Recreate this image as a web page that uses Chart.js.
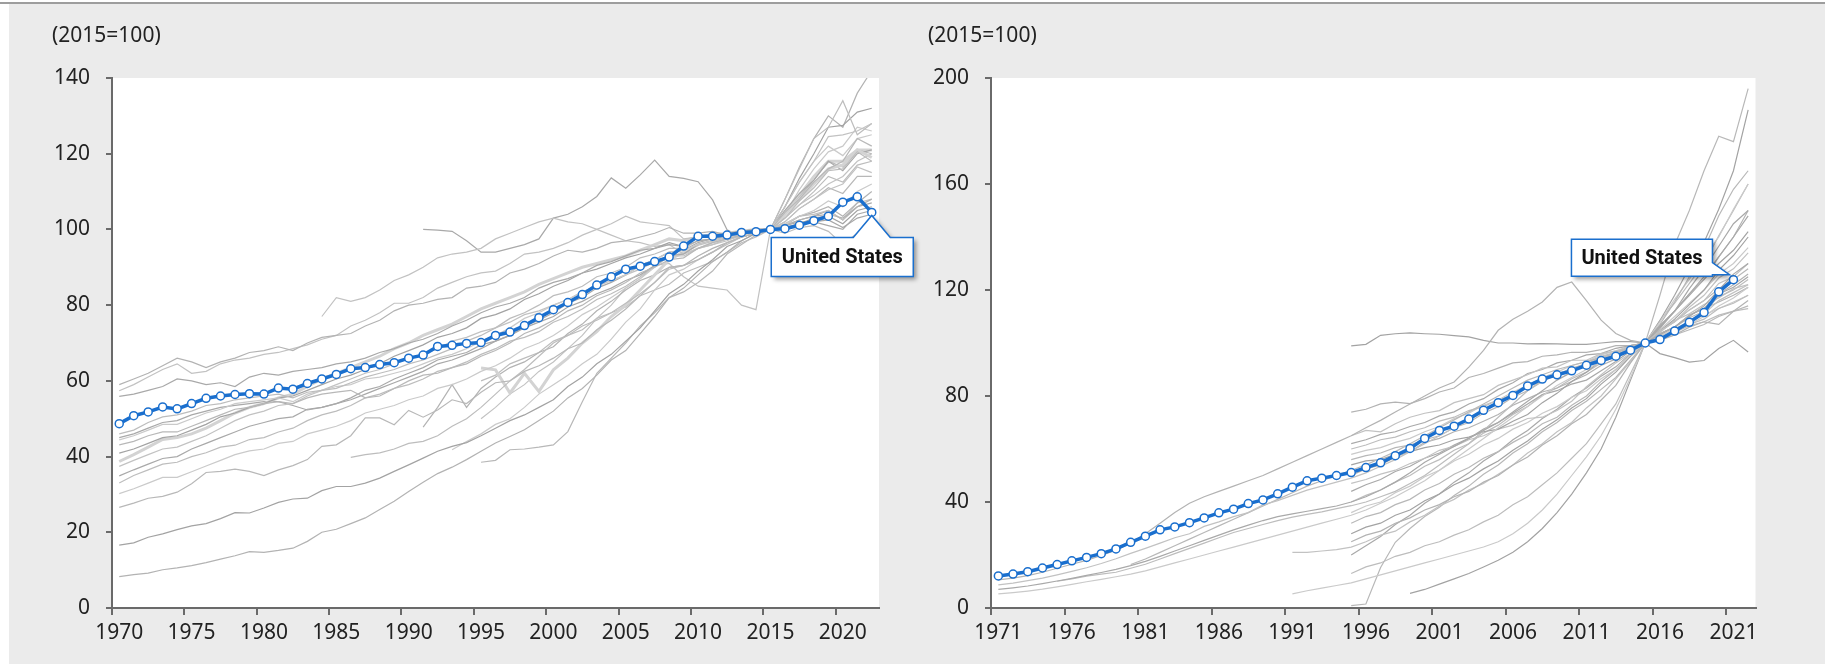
<!DOCTYPE html>
<html><head><meta charset="utf-8">
<script src="https://cdn.jsdelivr.net/npm/chart.js@4.4.1/dist/chart.umd.min.js"></script>
<style>
html,body{margin:0;padding:0;background:#fff;width:1825px;height:664px;overflow:hidden;}
#bg{position:absolute;left:9px;top:4px;width:1816px;height:660px;background:#ebebeb;}
#topline{position:absolute;left:0;top:2px;width:1825px;height:2px;background:#9d9d9d;}
#c1{position:absolute;left:0;top:0;width:925px;height:664px;}
#c2{position:absolute;left:925px;top:0;width:900px;height:664px;}
</style></head>
<body>
<div id="bg"></div><div id="topline"></div>
<canvas id="c1" width="925" height="664"></canvas>
<canvas id="c2" width="900" height="664"></canvas>
<script>
const N = null;
// ---------- Left panel: 1970-2022 ----------
const yearsLeft = [1970,1971,1972,1973,1974,1975,1976,1977,1978,1979,1980,1981,1982,1983,1984,1985,1986,1987,1988,1989,1990,1991,1992,1993,1994,1995,1996,1997,1998,1999,2000,2001,2002,2003,2004,2005,2006,2007,2008,2009,2010,2011,2012,2013,2014,2015,2016,2017,2018,2019,2020,2021,2022];
const usLeft = [48.7,50.8,51.8,53.1,52.6, 54.0,55.4,56.0,56.4,56.6, 56.5,58.1,57.8,59.3,60.5, 61.7,63.2,63.5,64.3,64.8, 66.0,66.8,69.1,69.4,69.9, 70.1,72.0,72.9,74.6,76.7, 78.8,80.7,82.8,85.3,87.5, 89.5,90.3,91.5,92.7,95.6, 98.2,98.2,98.5,99.2,99.4, 100,100.2,101.1,102.3,103.5, 107.2,108.6,104.5];
const gL01 = [59,60.5,62,64,66, 65,63.5,65,66,67.5, 68,69,68,70,71.5, 72,72.5,74.5,76,78.5, 80,80.5,81.5,82,84.5, 85,86,88.5,89.5,91, 93,94.5,94,95,96.5, 97,98,99,100.5,99, 99,99.5,98.5,99.5,100, 100,101,102.5,103.5,104, 103,106,108];
const gL02 = [57.4,59,61,63,64.5, 62,62.5,64.5,65.5,66, 67,67.5,68.5,69.5,71, 72,74.5,76,78,80.5, 80.5,82,84.5,86,87.5, 88.5,89,91,93.5,94, 95,96.5,98.5,100,101.5, 103.5,102,101.5,101,97.5, 98,99,98,99,99.5, 100,102,105.5,108,110.5, 112,116.5,115];
const gL03 = [55.9,56.5,57.5,58.5,60.5, 60,59,59.5,58.5,61, 62,61.5,62.5,63,63.5, 64.5,65,66,67.5,68.5, 70,71,72.5,74.5,76, 78,79.5,80.5,82,84.5, 86,87,88.5,90.5,91.5, 93,94.5,95,96,95.5, 97,97.5,98.5,99,99.5, 100,100.5,101.5,102,102.5, 100.5,103,104];
const gL04 = [46,47,49,50.5,51, 52,53.5,54,55,55.5, 56,56.5,55.5,57,57.5, 58,59.5,61,62,63, 64.5,65.5,67,68.5,70.5, 72,74,76.5,78,80, 82.5,83.5,85,87.5,88.5, 90,92.5,93.5,95,95, 97,97.5,98.5,99,99.5, 100,103,107.5,111,115.5, 116,120.5,118];
const gL05 = [44.4,45.5,47,48.5,48.5, 50,51.5,52.5,54,54.5, 55,55.5,54.5,56.5,57.5, 58.5,59,60.5,61,62, 63,64.5,66,67,68.5, 70.5,72,74,76.5,78, 80,81.5,83.5,85,86.5, 88,90.5,92,94,94.5, 96,97,98,99,99.5, 100,101.5,103.5,105,107.5, 106,110,112];
const gL06 = [43.1,44,45.5,46.5,46.5, 48,49.5,51,52.5,53, 54,54.5,54,55.5,56.5, 57,57.5,55.5,56,58, 60,61.5,62,63.5,64.5, 66.5,68,70,72.5,74, 76,78.5,80,82.5,84, 86,88.5,90,92,92.5, 95,96.5,97.5,98.5,99.5, 100,104.5,108,112.5,116, 118,124,122];
const gL07 = [40.9,42,43.5,45,45.5, 47,48.5,50.5,51.5,53, 54,55.5,56,57.5,59, 60.5,61.5,63,64.5,66.5, 68,69.5,71.5,72.5,74, 76.5,77.5,79,81.5,83, 85,86.5,88.5,89.5,91, 92.5,93.5,95,96.5,95.5, 98,98.5,99,99.5,100, 100,100.5,101.5,103,103.5, 101.5,105,106];
const gL08 = [38.7,40.5,42.5,44.5,45, 46,47.5,49.5,51.5,53, 54,55.5,56.5,58.5,60.5, 62,63.5,65,66.5,68.5, 70,72,73.5,75,77, 79,80.5,82,83.5,85.5, 87,88.5,90,91,92, 93,94.5,96,97.5,97, 98,98.5,99,99.5,100, 100,104,108,112,116, 117,121,119];
const gL09 = [37.4,39,40.5,42,42.5, 44,45.5,47.5,49.5,51, 52,53.5,54,56,57.5, 59,60.5,62,63,64.5, 66,67,68.5,70.5,71.5, 73,74,75.5,77.5,78.5, 80,81.5,83.5,85,86.5, 88,89.5,91.5,93,93, 95,96,97,98.5,99.5, 100,106,112.5,118,124.5, 125,126,128];
const gL10 = [34.9,36.5,38,39.5,40, 42,43.5,45,46.5,48, 49,50,50.5,52.5,53, 54,55.5,57.5,58.5,60.5, 62,63.5,65.5,66.5,67.5, 69.5,70.5,72,74,75.5, 77,79.5,81,83,84.5, 86.5,88,90.5,93,93.5, 96,97,98,99,99.5, 100,105,109.5,113,118, 115.5,120,121];
const gL11 = [33,35,36.5,38,38.5, 40,41,42.5,43,44.5, 45,46.5,47.5,49.5,51, 52,53.5,55.5,56.5,58, 59,60.5,62.5,63.5,65, 67,68.5,70.5,71.5,73, 75.5,77,79,81.5,83, 85,87.5,90.5,93,93.5, 96,97,98,99,99.5, 100,108,116,124,127, 134,125,128];
const gL12 = [30.2,31.5,33,34.5,34.5, 36,37.5,39,40.5,41.5, 42,43.5,44,46,47, 48,49.5,51.5,52.5,53.5, 55,56,58,59,60.5, 62.5,64,66,68.5,70, 72,74.5,77.5,79.5,82, 84.5,87,90,93,93.5, 95,96.5,97.5,98.5,99.5, 100,104,110.5,116,120.5, 122,127,126];
const gL13 = [26.6,27.7,29,29.5,30.6, 32.8,35.8,36.1,36.7,36.1, 35,36.5,37.6,39.2,42.7, 43.1,45.5,50.2,50.2,48.4, 52.2,50.4,52.3,55,54, 57,59.5,60,62.5,64, 66,68.5,70,73.5,76, 79,82.5,86,90,90.5, 92,94,96.5,98,99, 100,102,105.5,108,111, 109.5,114,114];
const gL14 = [16.6,17.2,18.7,19.6,20.7, 21.7,22.3,23.6,25.2,25.1, 26.4,27.9,28.8,29,31, 32.1,32.1,33,34.3,36.1, 37.8,39.6,41.4,42.7,43.7, 45.5,47.5,49.5,51,53, 55,58.5,61,64.5,67, 70.5,74,78.5,83,85.5, 89,92,95.5,97,99, 100,106,113.5,120,127, 127.5,131,132];
const gL15 = [8.3,8.8,9.2,10.1,10.6, 11.2,12,12.9,13.8,14.9, 14.7,15.2,15.8,17.6,20, 20.8,22.3,23.8,26,28.2, 30.8,33.2,35.5,37.2,39.2, 41.4,43.6,45.3,47.1,49.5, 52,55.5,58,61.5,65.5, 68,72.5,77,82,84.5, 88,91.5,94,97,99, 100,108,116.5,124,130, 127,136,142];
const gL16 = [N,N,N,N,N, N,N,N,N,N, N,N,N,N,77, 82,81,82,84,86.5, 88,90,92.5,93.5,94, 95,97.5,99,100.5,102, 103,102,101.5,100,98.5, 97,96.5,95.5,96,93.5, 95,96,97.5,98,99, 100,103,106.5,109,112, 114,118,120];
const gL17 = [N,N,N,N,N, N,N,N,N,N, N,N,N,N,N, N,N,N,N,N, N,100,99.8,99.5,97, 94,94,95,96,97.5, 103,104,106,108.7,113.6, 110.9,114.4,118.3,114,113.5, 112.6,107.8,99.9,98,99, 100,101,102,102,101, 100,104,105];
const gL18 = [N,N,N,N,N, N,N,N,N,N, N,N,N,N,N, N,39.8,40.5,41,42, 43.5,44,45.5,48,50, 53,56.5,60,63,66.5, 70,72,74.5,76,78, 80.5,83,86,89.5,90.5, 92,94,96,98,99, 100,103,106.5,110,114, 112.5,117,118];
const gL19 = [N,N,N,N,N, N,N,N,N,N, N,N,N,N,N, N,N,N,N,N, N,N,N,41.8,44, 46,48.5,50,53,56.5, 59,61.5,64.5,67,71, 75.5,79,84,88,89.5, 92,94,96.5,98,99, 100,106,112.5,118,122, 119.5,124,125];
const gL20 = [N,N,N,N,N, N,N,N,N,N, N,N,N,N,N, N,N,N,N,N, N,N,N,N,N, 38.5,39,41.8,42,42.5, 43.1,46.6,54.5,62,66, 70,74.5,78,82,83.5, 86,89,93.5,96,98.5, 100,104,108.5,113,118, 116.5,121,120];
const gL21 = [N,N,N,N,N, N,N,N,N,N, N,N,N,N,N, N,N,N,N,N, N,N,N,N,N, 63.4,62.9,56.8,62,57.2, 62.9,66,70,73,77, 80,84,88,92,94, 96,97,98,99,99.5, 100,104,109,114,118, 118,121,121];
const gL22 = [N,N,N,N,N, N,N,N,N,N, N,N,N,N,N, N,N,N,N,N, N,47.8,53,59,53, 58,61,63.5,65,67.5, 69,72.5,75,78.5,81, 84,86.5,88,90,90.5, 93,95,96.5,98,99, 100,101.5,103.5,104.5,106, 103.5,107,110];
const gL23 = [N,N,N,N,N, N,N,N,N,N, N,N,N,N,N, N,N,N,N,N, N,N,N,N,N, 50,53,56.5,59,62.5, 65,68.5,72,76.5,80, 84.5,87,90.5,91,87.5, 85,84.5,84,80,78.8, 100,101,103.5,104,105, 102.5,107,108];
const gL24 = [45,46,47.5,49,49.5, 51,52,53,53.5,54, 54.5,54.5,53.5,52.3,53, 54,55,56.5,58,59.5, 61,62.5,64.5,65.5,67, 68.5,70.5,72,74.5,76, 78,80.5,82,84.5,86, 88,90.5,92,94,94.5, 96.5,97.5,98.5,99,99.5, 100,101,102.5,103.5,105, 102.5,106,107];
const gL25 = [N,N,N,N,N, N,N,N,N,N, N,N,N,N,N, N,N,N,N,N, N,N,N,N,N, 60,61.5,64.5,66,67.5, 70.5,72,73.5,76.5,78, 79.5,82.5,84,85.5,88.5, 90,91.5,94,96.5,98, 100,99,100.5,101,99.5, 96,99,98];
const grayLeft = [gL01,gL02,gL03,gL04,gL05,gL06,gL07,gL08,gL09,gL10,gL11,gL12,gL13,gL14,gL15,gL16,gL17,gL18,gL19,gL20,gL21,gL22,gL23,gL24,gL25];
const thickLeft = [gL08, gL21];
const yTicksLeft = [0,20,40,60,80,100,120,140];

// ---------- Right panel: 1971-2022 ----------
const yearsRight = [1971,1972,1973,1974,1975,1976,1977,1978,1979,1980,1981,1982,1983,1984,1985,1986,1987,1988,1989,1990,1991,1992,1993,1994,1995,1996,1997,1998,1999,2000,2001,2002,2003,2004,2005,2006,2007,2008,2009,2010,2011,2012,2013,2014,2015,2016,2017,2018,2019,2020,2021,2022];
const usRight = [12.1,12.8,13.7,15.1,16.4, 17.8,19.1,20.5,22.3,24.8, 27.1,29.5,30.6,32.2,34.0, 35.9,37.3,39.4,40.8,43.1, 45.6,48.0,49.0,50.0,51.1, 53.0,54.8,57.5,60.2,64.0, 67.0,68.6,71.3,74.6,77.5, 80.2,83.8,86.4,88.0,89.5, 91.6,93.4,95.0,97.3,100, 101.3,104.5,107.8,111.5,119.3, 123.9,N];
const gR01 = [10.6,11.3,12.2,13.5,15, 16.5,18,19.8,21.8,24.5, 28,32,36,39.5,42, 44,46,48,50,52.5, 55,57.5,60,62.5,65, 68,70.8,74,77,80, 83,85.3,90.9,97.2,104.8, 109,112,115.5,121,123, 116,108.6,103.6,101,100, 101,103,106,108,107, 112,116];
const gR02 = [8.7,9.4,10.3,11.3,12.5, 13.8,15.2,16.8,18.6,20.6, 22.5,24.5,26.5,28,30.8, 32.5,34.5,36,38.9,40.5, 42.5,44.5,46,47.5,49, 51,53.5,56,59,62, 65,68,71,74,77.5, 81,84,86.5,88,90, 92,94,96,98,100, 102,105,108,111,116, 119,122];
const gR03 = [7,7.6,8.3,9.2,10.2, 11.2,12.3,13.4,14.6,16, 17.6,19.5,21.5,23.5,25.5, 27.5,29.5,31.3,33,34.5, 35.5,36.5,37.5,38.5,40, 42,44.5,47.5,51,55, 58,61,64,67,70, 74,78,82,86,89, 92,94,96,98,100, 103,106,110,114,120, 126,130];
const gR04 = [N,N,N,N,10.1, 11,12,12.8,13.5,15, 16.5,18.5,20.5,22.5,24.5, 26.5,28.5,30,31.5,33, 34.3,35.3,36.3,37.5,38.6, 40,42,44,47,50, 54,58,62,67,72, 77,82,86,88,90, 92,94.5,96.5,98.5,100, 102,104,107,109,113, 115,118];
const gR05 = [5.3,5.8,6.4,7.1,8, 8.9,9.9,10.8,11.8,12.8, 14,15.5,17,18.5,20, 21.5,23,24.5,26,27.5, 29,30.5,32,33.5,35, 37,39.5,42,45,48, 52,56,60,64,68, 72,76,80,84,87, 90,93,95.5,98,100, 102,104.5,107,110,114, 117,121];
const gR06 = [N,N,N,N,N, N,N,N,N,16.4, 18.5,21,23.5,26,28.5, 31,33.5,36,38.5,41, 43.5,46,48,50,52, 54,56.5,59,62,65, 68,71,74,77,80, 83,86,88,90,91.5, 93,94.5,96,98,100, 101.5,103,105,107,110, 112,114];
const gR07 = [N,N,N,N,N, N,N,N,N,N, N,N,N,N,N, N,N,N,N,N, N,N,N,N,98.9, 99.5,102.9,103.5,103.8,103.5, 103.3,102.8,102.3,101,100, 100,99.7,99.8,99.7,99.5, 99.5,100,100.5,100.5,100, 96,94.5,92.8,93.4,97.9, 101,96.6];
const gR08 = [N,N,N,N,N, N,N,N,N,N, N,N,N,N,N, N,N,N,N,N, N,N,N,N,73.9, 75,77,77.7,77.1,79, 81.5,83,87,88.5,90.5, 92.5,93,95,95.5,96.5, 96.5,97.5,99,99,100, 103.5,106,110.5,113,118.5, 122,126];
const gR09 = [N,N,N,N,N, N,N,N,N,N, N,N,N,N,N, N,N,N,N,N, N,N,N,N,65, 67,66.5,69.5,72,73.5, 74.5,77.5,79,80.5,84, 86,88,90.5,91,93.5, 93.5,96,97,98.5,100, 104.5,108,113.5,118,124.5, 128,134];
const gR10 = [N,N,N,N,N, N,N,N,N,N, N,N,N,N,N, N,N,N,N,N, N,N,N,N,62, 63.5,65.5,66.5,68.5,70, 72.5,74,77,79,82.5, 85,88.5,90,92.5,93.5, 95.5,96,98,99,100, 106.5,112,120.5,128,136.5, 145,150];
const gR11 = [N,N,N,N,N, N,N,N,N,N, N,N,N,N,N, N,N,N,N,N, N,N,N,N,60, 61.5,63.5,64.5,66.5,68, 70.5,72,74.5,76,78.5, 80.5,83.5,85.5,88.5,90, 92.5,95,96.5,98.5,100, 103.5,106,109.5,112,117.5, 120,124];
const gR12 = [N,N,N,N,N, N,N,N,N,N, N,N,N,N,N, N,N,N,N,N, N,N,N,N,58, 59.5,60.5,62.5,64,66.5, 68.5,71.5,73.5,76.5,78.5, 81.5,84,87,89,91.5, 93,95.5,97,99,100, 102.5,105.5,108,110.5,113, 115.5,118];
const gR13 = [N,N,N,N,N, N,N,N,N,N, N,N,N,N,N, N,N,N,N,N, N,N,N,N,56, 57.5,58.5,60.5,61.5,63.5, 65,68,70,73.5,76, 79.5,82,85.5,88,90.5, 92,94.5,96,98.5,100, 107,115.5,125,135.5,148, 158,165];
const gR14 = [N,N,N,N,N, N,N,N,N,N, N,N,N,N,N, N,N,N,N,N, N,N,N,N,54, 55.5,56,58,59,60.5, 61.5,63.5,64.5,66.5,67.5, 70.5,73,77.5,81,85.5, 89,93.5,96,99,100, 104.5,109,114.5,120,127.5, 133,140];
const gR15 = [N,N,N,N,N, N,N,N,N,N, N,N,N,N,N, N,N,N,N,N, N,N,N,N,50, 52.5,54,57,59,62.5, 64,66.5,68,70.5,73, 76.5,79,81.5,83,85.5, 88,91.5,94,97.5,100, 103.5,106,110.5,113,115.5, 118,121];
const gR16 = [N,N,N,N,N, N,N,N,N,N, N,N,N,N,N, N,N,N,N,N, N,N,N,N,47, 48.5,50.5,52,54.5,56.5, 59.5,61,63.5,65,67.5, 69,71.5,72,74.5,78, 83.5,88,92.5,96,100, 104.5,108,112.5,116,122.5, 125,130];
const gR17 = [N,N,N,N,N, N,N,N,N,N, N,N,N,N,N, N,N,N,N,N, N,N,N,N,44, 46.5,48.5,51.5,53.5,56.5, 58.5,61.5,64,67.5,70, 73.5,77,80.5,82,84.5, 86,89.5,93,97,100, 105.5,112,118.5,125,132.5, 140,148];
const gR18 = [N,N,N,N,N, N,N,N,N,N, N,N,N,N,N, N,N,N,N,N, N,N,N,N,40, 42.5,44.5,47.5,50,53.5, 56,59.5,62,66,69, 73,76,80.5,83,86.5, 89,92.5,95,98,100, 102.5,104,106.5,108,110.5, 112,113];
const gR19 = [N,N,N,N,N, N,N,N,N,N, N,N,N,N,N, N,N,N,N,N, N,N,N,N,36, 38.5,40,43.5,46,49.5, 52,55.5,58,61.5,64, 67.5,70,73.5,76,79.5, 82,86.5,90,95.5,100, 108,116.5,124,132.5,140, 150.5,160];
const gR20 = [N,N,N,N,N, N,N,N,N,N, N,N,N,N,N, N,N,N,N,N, N,N,N,N,32, 34.5,36,39,41,44.5, 47,50.5,53,56.5,59, 62.5,65.5,69.5,72,76.5, 80,85.5,90,95.5,100, 118,137,150,165,178, 176,196];
const gR21 = [N,N,N,N,N, N,N,N,N,N, N,N,N,N,N, N,N,N,N,N, N,N,N,N,28, 30.5,32,35,37,40.5, 43,46.5,49,52.5,55.5, 59.5,63,67.5,71,75.5, 79,84.5,89,95,100, 108.5,118,128.5,138,150.5, 165,188];
const gR22 = [N,N,N,N,N, N,N,N,N,N, N,N,N,N,N, N,N,N,N,N, N,N,N,N,25, 27.5,29,32,34,37, 39,42,44,47.5,50, 54,57,61.5,65,69.5, 73,78.5,84,92.5,100, 106.5,112,118.5,124,132.5, 140,150];
const gR23 = [N,N,N,N,N, N,N,N,N,N, N,N,N,N,N, N,N,N,N,N, 21,21,21.5,22,23, 25,27.5,29,32.5,35, 38.5,41,44.5,47,50.5, 54,58.5,62,66.5,70, 75.5,80,86.5,93,100, 104,108.5,111,114.5,117, 120.5,122];
const gR24 = [N,N,N,N,N, N,N,N,N,N, N,N,N,N,N, N,N,N,N,N, N,N,N,N,20, 23.5,27,31.5,35,39.5, 43,47.5,51,55.5,59, 63.5,67,71.5,75,79.5, 83,87.5,91,96,100, 103.5,106,110.5,113,118.5, 121,125];
const gR25 = [N,N,N,N,N, N,N,N,N,N, N,N,N,N,N, N,N,N,N,N, N,N,N,N,13, 15.5,17,19.5,21,23.5, 25,27.5,29.5,32.5,35, 39,42,46.5,51,56.5, 62,69.5,77,88.5,100, 108.5,115,122.5,130,140.5, 150,160];
const gR26 = [N,N,N,N,N, N,N,N,N,N, N,N,N,N,N, N,N,N,N,N, 5.3,6.5,7.5,8.5,9.5, 11,12.5,14,15.5,17, 18.5,20,21.5,23,25, 28,32,37,43,50, 57,65,75,87,100, 105,110,115,120,126, 130,136];
const gR27 = [N,N,N,N,N, N,N,N,N,N, N,N,N,N,N, N,N,N,N,N, N,N,N,N,0.9, 1.5,15.3,24.8,30,34.5, 38,42.5,46,50.5,54, 58.5,62,66.5,70,74.5, 78,82.5,87,93.5,100, 104.5,108,112.5,116,120.5, 124,128];
const gR28 = [N,N,N,N,N, N,N,N,N,N, N,N,N,N,N, N,N,N,N,N, N,N,N,N,N, N,N,N,5.5,7, 9,11,13,15.5,18, 21,25,30,36,43, 51,60,72,86,100, 106,112,118,124,130, 135,142];
const grayRight = [gR01,gR02,gR03,gR04,gR05,gR06,gR07,gR08,gR09,gR10,gR11,gR12,gR13,gR14,gR15,gR16,gR17,gR18,gR19,gR20,gR21,gR22,gR23,gR24,gR25,gR26,gR27,gR28];
const yTicksRight = [0,40,80,120,160,200];

const unitLabel = '(2015=100)';
const seriesName = 'United States';

const grayShades = ['#b3b3b3','#c2c2c2','#a9a9a9','#bdbdbd','#cacaca','#b8b8b8','#a3a3a3'];
const BLUE = '#1a6fce';
const AXIS = '#6a6a6a';
const TXT = '#222222';
const FONT = 'Noto Sans';

const decoPlugin = {
  id: 'deco',
  beforeDraw(chart, args, o) {
    const {ctx, chartArea: a} = chart;
    ctx.save();
    ctx.fillStyle = '#ffffff';
    ctx.fillRect(a.left, a.top, a.right - a.left, a.bottom - a.top);
    ctx.restore();
  },
  afterDatasetsDraw(chart, args, o) {
    const ctx = chart.ctx;
    const meta = chart.getDatasetMeta(0);
    const data = chart.data.datasets[0].data;
    let last = data.length - 1;
    while (last > 0 && data[last] == null) last--;
    const pt = meta.data[last];
    const px = pt.x, py = pt.y;
    ctx.save();
    let x0, y0, w, h;
    ctx.beginPath();
    if (o.side === 'below') {
      w = 142; h = 39; x0 = px - 100.5; y0 = py + 25;
      ctx.moveTo(x0, y0);
      ctx.lineTo(px - 18.5, y0);
      ctx.lineTo(px, py + 3);
      ctx.lineTo(px + 18.5, y0);
      ctx.lineTo(x0 + w, y0);
      ctx.lineTo(x0 + w, y0 + h);
      ctx.lineTo(x0, y0 + h);
      ctx.closePath();
    } else {
      w = 141; h = 37; x0 = px - 21 - w; y0 = py - 40.5;
      ctx.moveTo(x0, y0);
      ctx.lineTo(x0 + w, y0);
      ctx.lineTo(x0 + w, y0 + 23.5);
      ctx.lineTo(px - 4, py - 5);
      ctx.lineTo(x0 + w, y0 + 35.5);
      ctx.lineTo(x0 + w, y0 + h);
      ctx.lineTo(x0, y0 + h);
      ctx.closePath();
    }
    ctx.shadowColor = 'rgba(0,0,0,0.38)';
    ctx.shadowBlur = 4;
    ctx.shadowOffsetX = 3;
    ctx.shadowOffsetY = 3;
    ctx.fillStyle = '#ffffff';
    ctx.fill();
    ctx.shadowColor = 'rgba(0,0,0,0)';
    ctx.lineWidth = 1.5;
    ctx.strokeStyle = BLUE;
    ctx.stroke();
    ctx.fillStyle = '#111111';
    ctx.font = 'bold 20px Roboto';
    ctx.textAlign = 'center';
    ctx.textBaseline = 'middle';
    ctx.fillText(seriesName, x0 + w / 2, y0 + h / 2 + 1);
    ctx.restore();
  },
  afterDraw(chart, args, o) {
    const ctx = chart.ctx;
    ctx.save();
    ctx.fillStyle = TXT;
    ctx.font = '21px "' + FONT + '"';
    ctx.textAlign = 'left';
    ctx.textBaseline = 'alphabetic';
    ctx.fillText(unitLabel, o.titleX, 42);
    ctx.restore();
  }
};

function makeChart(id, labels, us, grays, thick, yMax, yStep, yWidth, padRight, titleX, side) {
  const datasets = [{
    data: us,
    borderColor: BLUE,
    borderWidth: 3.5,
    pointRadius: 4,
    pointBorderWidth: 1.5,
    pointBackgroundColor: '#ffffff',
    pointBorderColor: BLUE,
    tension: 0,
    order: 0
  }];
  grays.forEach((g, i) => {
    const isThick = thick.includes(g);
    datasets.push({
      data: g,
      borderColor: isThick ? '#d3d3d3' : grayShades[i % grayShades.length],
      borderWidth: isThick ? 3 : 1.2,
      pointRadius: 0,
      tension: 0,
      order: 1
    });
  });
  return new Chart(document.getElementById(id), {
    type: 'line',
    data: { labels: labels, datasets: datasets },
    plugins: [decoPlugin],
    options: {
      responsive: false,
      animation: false,
      events: [],
      layout: { padding: { left: 0, right: padRight, top: 78, bottom: 0 } },
      plugins: {
        legend: { display: false },
        tooltip: { enabled: false },
        deco: { titleX: titleX, side: side }
      },
      scales: {
        x: {
          type: 'category',
          offset: true,
          grid: {
            offset: true,
            drawOnChartArea: false,
            drawTicks: true,
            tickLength: 7,
            lineWidth: 2,
            tickColor: (c) => (c.index % 5 === 0 ? AXIS : 'rgba(0,0,0,0)')
          },
          border: { display: true, color: AXIS, width: 2 },
          ticks: {
            autoSkip: false, maxRotation: 0, minRotation: 0, padding: 5,
            color: TXT, font: { family: FONT, size: 21 },
            callback: function (v, i) { return i % 5 === 0 ? this.getLabelForValue(v) : ''; }
          },
          afterFit: (s) => { s.height = 56; }
        },
        y: {
          min: 0, max: yMax,
          ticks: { stepSize: yStep, padding: 16, color: TXT, font: { family: FONT, size: 21 } },
          grid: { drawOnChartArea: false, drawTicks: true, tickLength: 6, lineWidth: 2, color: AXIS },
          border: { display: true, color: AXIS, width: 2 },
          afterFit: (s) => { s.width = yWidth; }
        }
      }
    }
  });
}

makeChart('c1', yearsLeft, usLeft, grayLeft, thickLeft, yTicksLeft[yTicksLeft.length-1], yTicksLeft[1]-yTicksLeft[0], 112, 46, 52, 'below');
makeChart('c2', yearsRight, usRight, grayRight, [], yTicksRight[yTicksRight.length-1], yTicksRight[1]-yTicksRight[0], 66, 69.5, 3, 'left');
</script>
</body></html>
